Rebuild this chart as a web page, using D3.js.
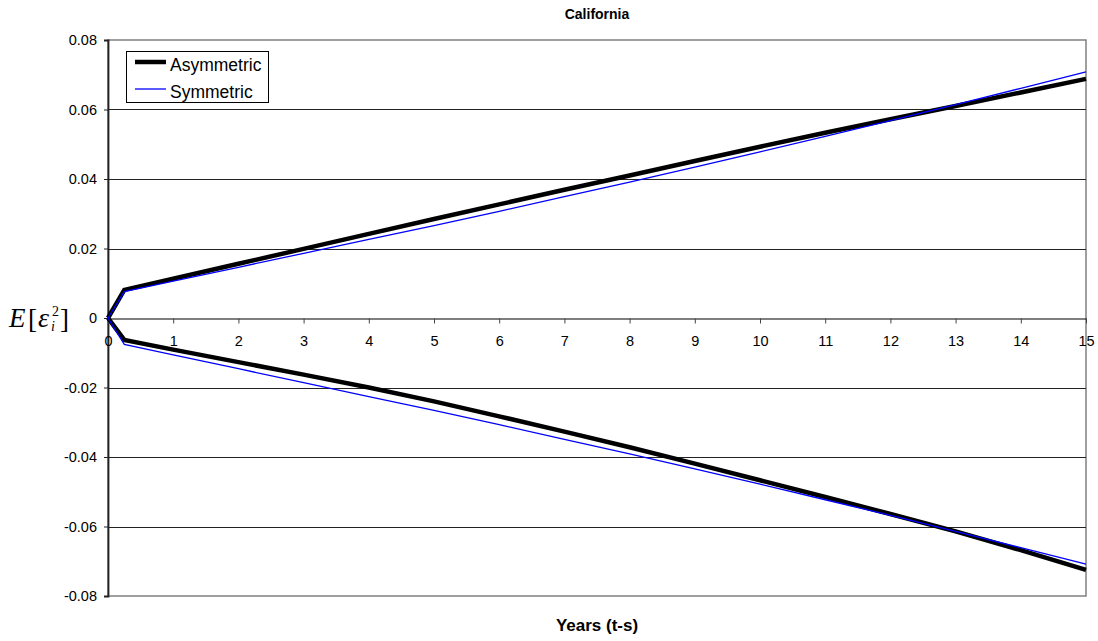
<!DOCTYPE html>
<html>
<head>
<meta charset="utf-8">
<script src="https://cdn.jsdelivr.net/npm/d3@7/dist/d3.min.js"></script>
<style>
  html, body { margin: 0; padding: 0; background: #fff; }
  svg { display: block; }
</style>
</head>
<body>
<div id="chart"></div>
<script>
// years since start (t-s)
const years = [0, 0.25, 1, 2, 3, 4, 5, 6, 7, 8, 9, 10, 11, 12, 13, 14, 15];

// asymmetric model: upper and lower bands
const asymUpper = [0, 0.0081, 0.0113, 0.0156, 0.0199, 0.0242, 0.0285, 0.0327, 0.0369, 0.0410, 0.0452, 0.0493, 0.0533, 0.0572, 0.0610, 0.0649, 0.0688];
const asymLower = [0, -0.0063, -0.0091, -0.0127, -0.0163, -0.0200, -0.0240, -0.0283, -0.0327, -0.0372, -0.0419, -0.0467, -0.0515, -0.0564, -0.0614, -0.0668, -0.0725];

// symmetric model: upper and lower bands
const symUpper = [0, 0.0076, 0.0106, 0.0146, 0.0186, 0.0226, 0.0266, 0.0307, 0.0349, 0.0391, 0.0434, 0.0478, 0.0523, 0.0568, 0.0614, 0.0661, 0.0708];
const symLower = [0, -0.0076, -0.0106, -0.0146, -0.0186, -0.0226, -0.0266, -0.0307, -0.0349, -0.0391, -0.0434, -0.0478, -0.0523, -0.0568, -0.0614, -0.0661, -0.0708];

const xTicks = [0, 1, 2, 3, 4, 5, 6, 7, 8, 9, 10, 11, 12, 13, 14, 15];
const yTicks = [-0.08, -0.06, -0.04, -0.02, 0, 0.02, 0.04, 0.06, 0.08];
const seriesNames = ["Asymmetric", "Symmetric"];

const W = 1098, H = 641;
const M = { top: 40, right: 12, bottom: 45, left: 108 };
const FONT = "'Liberation Sans', Arial, sans-serif";
const SERIF = "'Liberation Serif', 'Times New Roman', serif";

const svg = d3.select("#chart").append("svg")
  .attr("width", W).attr("height", H)
  .attr("viewBox", `0 0 ${W} ${H}`);

const x = d3.scaleLinear().domain([0, 15]).range([M.left, W - M.right]);
const y = d3.scaleLinear().domain([-0.08, 0.08]).range([H - M.bottom, M.top]);

const crisp = v => Math.round(v) + 0.5;

// Plot frame
svg.append("rect")
  .attr("x", x(0)).attr("y", y(0.08))
  .attr("width", x(15) - x(0)).attr("height", y(-0.08) - y(0.08))
  .attr("fill", "#fff")
  .attr("stroke", "#808080").attr("stroke-width", 1.5);

// Grid
svg.append("g").selectAll("line")
  .data(yTicks.filter(d => Math.abs(d) > 1e-9 && Math.abs(d) < 0.079))
  .enter().append("line")
  .attr("x1", x(0)).attr("x2", x(15))
  .attr("y1", d => crisp(y(d))).attr("y2", d => crisp(y(d)))
  .attr("stroke", "#222").attr("stroke-width", 1);

// Y axis
svg.append("g")
  .attr("transform", `translate(${x(0)},0)`)
  .call(d3.axisLeft(y).tickValues(yTicks).tickSize(4).tickPadding(7)
    .tickFormat(d => Math.abs(d) < 1e-9 ? "0" : d.toFixed(2)))
  .call(ax => ax.select(".domain").attr("stroke", "#222").attr("stroke-width", 1.8))
  .call(ax => ax.selectAll(".tick line").attr("stroke", "#222"))
  .call(ax => ax.selectAll("text")
    .style("font-family", FONT).style("font-size", "14.5px").attr("fill", "#000"));

// X axis along y = 0
svg.append("g")
  .attr("transform", `translate(0,${crisp(y(0))})`)
  .call(d3.axisBottom(x).tickValues(xTicks).tickSize(5).tickSizeOuter(0).tickPadding(12)
    .tickFormat(d3.format("d")))
  .call(ax => ax.select(".domain").attr("stroke", "#000").attr("stroke-width", 1.2))
  .call(ax => ax.selectAll(".tick line").attr("stroke", "#444"))
  .call(ax => ax.selectAll("text")
    .style("font-family", FONT).style("font-size", "14.5px").attr("fill", "#000"));

// Lines
const line = d3.line()
  .x((_, i) => x(years[i]))
  .y(d => y(d));

const series = [
  { values: asymUpper, color: "#000", width: 4.5 },
  { values: asymLower, color: "#000", width: 4.5 },
  { values: symUpper, color: "#0000ff", width: 1.3 },
  { values: symLower, color: "#0000ff", width: 1.3 }
];

series.forEach(s => {
  svg.append("path")
    .datum(s.values)
    .attr("fill", "none")
    .attr("stroke", s.color)
    .attr("stroke-width", s.width)
    .attr("d", line);
});

// Legend
const lg = svg.append("g").attr("transform", "translate(126.5,51.5)");
lg.append("rect")
  .attr("width", 142).attr("height", 51)
  .attr("fill", "#fff").attr("stroke", "#000").attr("stroke-width", 1);

const legendItems = [
  { name: seriesNames[0], color: "#000", width: 4.5 },
  { name: seriesNames[1], color: "#0000ff", width: 1.3 }
];
legendItems.forEach((d, i) => {
  const ly = 10.5 + i * 27;
  lg.append("line")
    .attr("x1", 8.5).attr("x2", 39.5)
    .attr("y1", ly).attr("y2", ly)
    .attr("stroke", d.color).attr("stroke-width", d.width);
  lg.append("text")
    .attr("x", 43.5).attr("y", ly + 8.5)
    .style("font-family", FONT).style("font-size", "17.5px")
    .attr("fill", "#000")
    .text(d.name);
});

// Title
svg.append("text")
  .attr("x", (x(0) + x(15)) / 2).attr("y", 19)
  .attr("text-anchor", "middle")
  .style("font-family", FONT).style("font-size", "14px").style("font-weight", "bold")
  .text("California");

// X axis title
svg.append("text")
  .attr("x", (x(0) + x(15)) / 2).attr("y", 631)
  .attr("text-anchor", "middle")
  .style("font-family", FONT).style("font-size", "17px").style("font-weight", "bold")
  .text("Years (t-s)");

// Y axis title: E[ε_i^2]
const yl = svg.append("g").style("font-family", SERIF).attr("fill", "#000");
yl.append("text").attr("x", 9).attr("y", 327)
  .style("font-size", "27px").style("font-style", "italic").text("E");
yl.append("text").attr("x", 28).attr("y", 328)
  .style("font-size", "27px").text("[");
yl.append("text").attr("x", 38).attr("y", 327)
  .style("font-size", "28px").style("font-style", "italic").text("ε");
yl.append("text").attr("x", 52).attr("y", 316)
  .style("font-size", "14px").text("2");
yl.append("text").attr("x", 51).attr("y", 331)
  .style("font-size", "14px").style("font-style", "italic").text("i");
yl.append("text").attr("x", 60).attr("y", 328)
  .style("font-size", "27px").text("]");
</script>
</body>
</html>
